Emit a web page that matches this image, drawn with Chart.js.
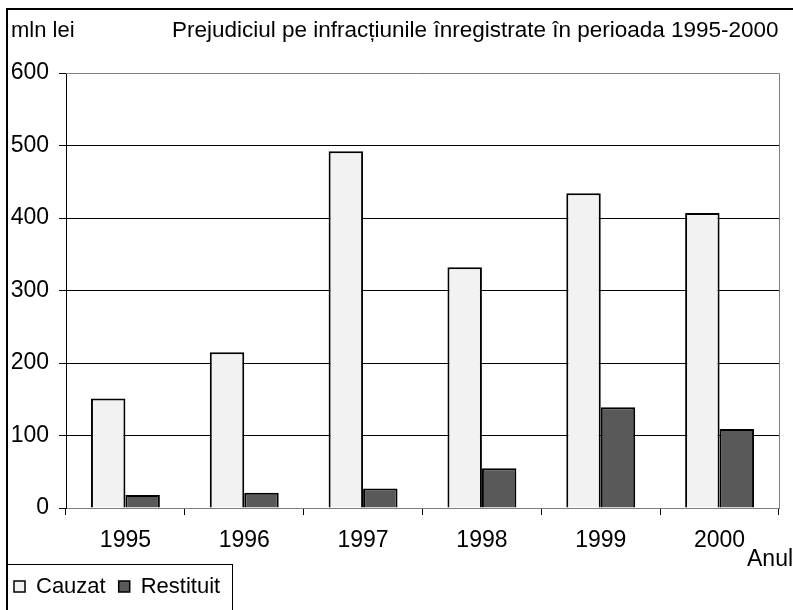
<!DOCTYPE html>
<html>
<head>
<meta charset="utf-8">
<script src="https://cdn.jsdelivr.net/npm/chart.js@4"></script>
<style>
html,body{margin:0;padding:0;background:#fff;}
#wrap{width:793px;height:610px;position:relative;}
</style>
</head>
<body>
<div id="wrap"><canvas id="c" width="793" height="610"></canvas></div>
<script>
const categories = ['1995','1996','1997','1998','1999','2000'];
const cauzat = [151, 215, 492, 332, 434, 407];
const restituit = [18, 21, 27, 55, 139, 109];
const yTicks = [0,100,200,300,400,500,600];
const seriesNames = ['Cauzat','Restituit'];
const titleText = 'Prejudiciul pe infracțiunile înregistrate în perioada 1995-2000';
const yUnit = 'mln lei';
const xName = 'Anul';

const FONT = 'Liberation Sans, Arial, sans-serif';
const FS = 23;

const decor = {
  id:'decor',
  afterDraw(chart){
    const ctx = chart.ctx, a = chart.chartArea;
    ctx.save();
    ctx.strokeStyle = '#808080'; ctx.lineWidth = 1;
    ctx.beginPath();
    ctx.moveTo(a.left, a.top+0.5); ctx.lineTo(a.right+0.5, a.top+0.5);
    ctx.lineTo(a.right+0.5, a.bottom);
    ctx.stroke();
    ctx.strokeStyle = '#000'; ctx.lineWidth = 2;
    ctx.beginPath();
    ctx.moveTo(7, 612); ctx.lineTo(7, 9); ctx.lineTo(800, 9);
    ctx.stroke();
    ctx.fillStyle = '#000';
    ctx.textBaseline = 'middle';
    ctx.textAlign = 'left';
    ctx.font = '22px ' + FONT;
    ctx.fillText(yUnit, 11, 31);
    ctx.font = '22.5px ' + FONT;
    ctx.fillText(titleText, 172, 31);
    ctx.font = FS + 'px ' + FONT;
    ctx.fillText(xName, 747, 560);
    ctx.lineWidth = 1;
    ctx.strokeStyle = '#000';
    ctx.strokeRect(7.5, 564.5, 225, 60);
    ctx.font = '22px ' + FONT;
    let x = 14;
    const ly = 586;
    chart.data.datasets.forEach(ds => {
      ctx.fillStyle = ds.backgroundColor;
      ctx.fillRect(x, ly-5, 11, 11);
      ctx.strokeStyle = '#000'; ctx.lineWidth = 1.5;
      ctx.strokeRect(x, ly-5, 11, 11);
      ctx.fillStyle = '#000';
      ctx.fillText(ds.label, x+22, ly+1);
      x += 22 + ctx.measureText(ds.label).width + 13;
    });
    ctx.restore();
  }
};

new Chart(document.getElementById('c'), {
  type:'bar',
  data:{
    labels:categories,
    datasets:[
      {label:seriesNames[0], data:cauzat, backgroundColor:'#f2f2f2', borderColor:'#000', borderWidth:2},
      {label:seriesNames[1], data:restituit, backgroundColor:'#595959', borderColor:'#000', borderWidth:2}
    ]
  },
  options:{
    responsive:false, animation:false, devicePixelRatio:1,
    layout:{padding:{left:0, top:73, right:14, bottom:0}},
    datasets:{bar:{categoryPercentage:0.58, barPercentage:1}},
    plugins:{legend:{display:false}, tooltip:{enabled:false}, title:{display:false}},
    scales:{
      x:{
        afterFit(s){ s.height = 102; },
        grid:{drawOnChartArea:false, drawTicks:true, tickLength:7, color:'#000', offset:true},
        border:{color:'#808080', width:1},
        ticks:{color:'#000', font:{family:FONT, size:FS}, padding:12, maxRotation:0}
      },
      y:{
        min:0, max:600,
        afterFit(s){ s.width = 66; },
        afterBuildTicks(s){ s.ticks = yTicks.map(v=>({value:v})); },
        grid:{color:'#000', tickLength:7, drawTicks:true},
        border:{color:'#000', width:1},
        ticks:{color:'#000', font:{family:FONT, size:FS}, padding:10}
      }
    }
  },
  plugins:[decor]
});
</script>
</body>
</html>
